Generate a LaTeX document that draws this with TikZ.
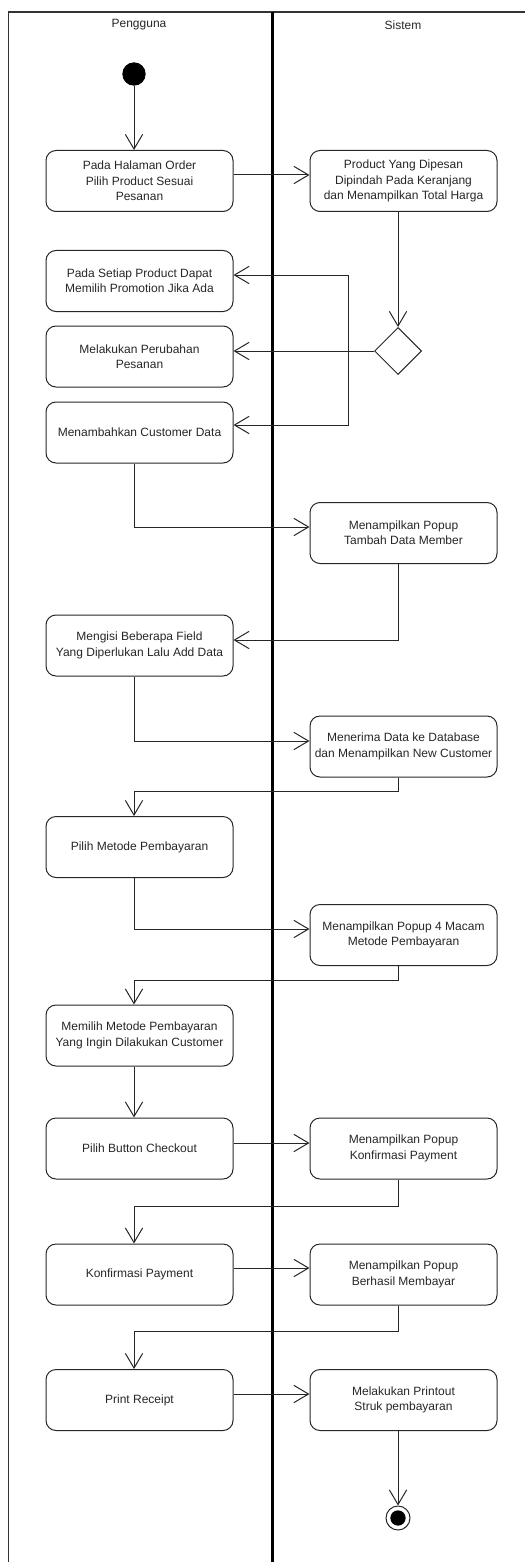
\documentclass[tikz,border=0pt]{standalone}
\usepackage{fontspec}
\setmainfont{Liberation Sans}
\usetikzlibrary{arrows.meta,shapes.geometric}
\begin{document}
\begin{tikzpicture}[x=0.75pt,y=-0.75pt,
  act/.style={draw=black!85, line width=0.75pt, rounded corners=7.5pt,
    minimum width=140.25pt, minimum height=45.75pt, inner sep=0pt,
    align=center, font=\fontsize{9}{11.5}\selectfont, text=black!85},
  flow/.style={draw=black!85, line width=0.75pt,
    -{Straight Barb[length=11pt,width=13pt]}},
  decision/.style={shape=diamond, draw=black!85, line width=0.75pt,
    minimum width=35.25pt, minimum height=35.25pt, inner sep=0pt},
  lane/.style={font=\fontsize{9}{11}\selectfont, text=black!85}]
\useasboundingbox (0,0) rectangle (525,1562);

% swimlane frame
\draw[line width=0.9pt, black!80] (525,12) -- (8.5,12) -- (8.5,1562);
\draw[line width=1.6pt] (272.5,12) -- (272.5,1562);
\node[lane] (P) at (139,25) {Pengguna};
\node[lane] (Q) at (403,25) {Sistem};

% initial and final states
\node[circle, fill=black, minimum size=17.5pt, inner sep=0pt] (S) at (134,74) {};
\node[circle, draw=black!85, line width=0.75pt, minimum size=18pt, inner sep=0pt] (E) at (398,1518) {};
\node[circle, fill=black, minimum size=11.5pt, inner sep=0pt] (E2) at (E.center) {};

% actions
\node[act] (L1) at (139.5,181) {Pada Halaman Order\\Pilih Product Sesuai\\Pesanan};
\node[act] (R1) at (403.5,181) {Product Yang Dipesan\\Dipindah Pada Keranjang\\dan Menampilkan Total Harga};
\node[act] (L2) at (139.5,281) {Pada Setiap Product Dapat\\Memilih Promotion Jika Ada};
\node[act] (L3) at (139.5,356.5) {Melakukan Perubahan\\Pesanan};
\node[act] (L4) at (139.5,432.5) {Menambahkan Customer Data};
\node[decision] (D) at (398,351) {};
\node[act] (R2) at (403.5,533) {Menampilkan Popup\\Tambah Data Member};
\node[act] (L5) at (139.5,645.5) {Mengisi Beberapa Field\\Yang Diperlukan Lalu Add Data};
\node[act] (R3) at (403.5,746.5) {Menerima Data ke Database\\dan Menampilkan New Customer};
\node[act] (L6) at (139.5,847) {Pilih Metode Pembayaran};
\node[act] (R4) at (403.5,935) {Menampilkan Popup 4 Macam\\Metode Pembayaran};
\node[act] (L7) at (139.5,1035.5) {Memilih Metode Pembayaran\\Yang Ingin Dilakukan Customer};
\node[act] (L8) at (139.5,1148.5) {Pilih Button Checkout};
\node[act] (R5) at (403.5,1148.5) {Menampilkan Popup\\Konfirmasi Payment};
\node[act] (L9) at (139.5,1274.5) {Konfirmasi Payment};
\node[act] (R6) at (403.5,1274.5) {Menampilkan Popup\\Berhasil Membayar};
\node[act] (L10) at (139.5,1400) {Print Receipt};
\node[act] (R7) at (403.5,1400) {Melakukan Printout\\Struk pembayaran};

% control flow
\draw[flow] (S) -- ([xshift=-4.125pt]L1.north);
\draw[flow] ([yshift=4.5pt]L1.east) -- ([yshift=4.5pt]R1.west);
\draw[flow] ([xshift=-4.125pt]R1.south) -- (D.north);
\draw[flow] (D.west) -- (D.west -| L3.east);
\coordinate (J) at (348,351);
\draw[flow] (J) |- ([yshift=4.5pt]L2.east);
\draw[flow] (J) |- ([yshift=5.625pt]L4.east);
\draw[flow] ([xshift=-4.125pt]L4.south) |- ([yshift=4.5pt]R2.west);
\draw[flow] ([xshift=-4.125pt]R2.south) |- ([yshift=4.125pt]L5.east);
\draw[flow] ([xshift=-4.125pt]L5.south) |- ([yshift=4.125pt]R3.west);
\draw[flow] ([xshift=-4.125pt]R3.south) -- ++(0,14) -| ([xshift=-4.125pt]L6.north);
\draw[flow] ([xshift=-4.125pt]L6.south) |- ([yshift=4.5pt]R4.west);
\draw[flow] ([xshift=-4.125pt]R4.south) -- ++(0,14) -| ([xshift=-4.125pt]L7.north);
\draw[flow] ([xshift=-4.125pt]L7.south) -- ([xshift=-4.125pt]L8.north);
\draw[flow] ([yshift=4.125pt]L8.east) -- ([yshift=4.125pt]R5.west);
\draw[flow] ([xshift=-4.125pt]R5.south) -- ++(0,27) -| ([xshift=-4.125pt]L9.north);
\draw[flow] ([yshift=4.875pt]L9.east) -- ([yshift=4.875pt]R6.west);
\draw[flow] ([xshift=-4.125pt]R6.south) -- ++(0,26) -| ([xshift=-4.125pt]L10.north);
\draw[flow] ([yshift=4.5pt]L10.east) -- ([yshift=4.5pt]R7.west);
\draw[flow] ([xshift=-4.125pt]R7.south) -- (E);
\end{tikzpicture}
\end{document}
